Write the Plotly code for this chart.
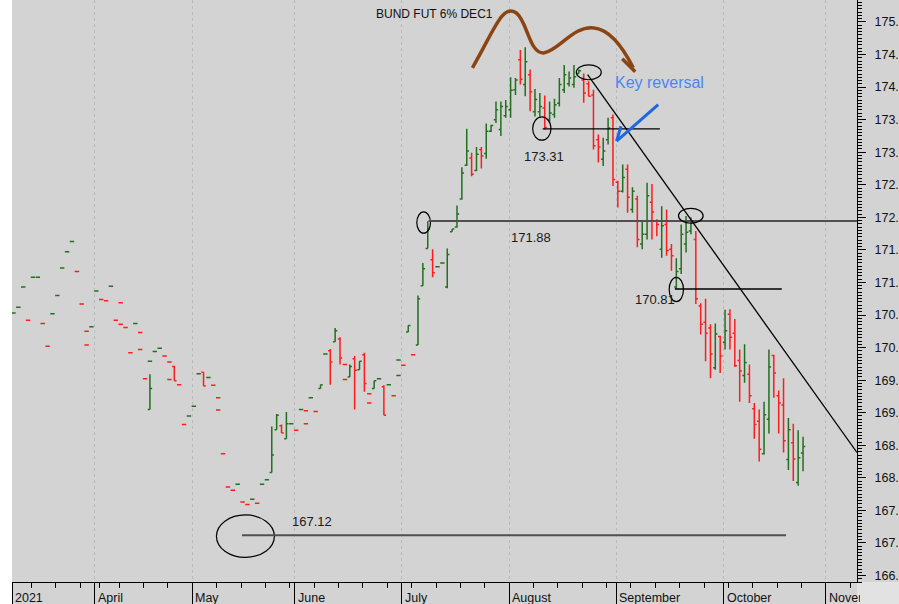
import plotly.graph_objects as go

TITLE = "BUND FUT 6% DEC1"

# daily bars (trading days), 9 Mar 2021 .. 25 Oct 2021
opens = [
    170.53, 170.62, 170.93, 170.42, 171.08, 171.08, 170.37, 170.02, 170.52, 170.80, 171.22, 171.47, 171.63, 171.17, 170.67, 170.25, 170.32,
    170.87, 170.74, 170.72, 170.94, 170.42, 170.36, 170.31, 169.92, 170.37, 170.23, 169.52, 169.05, 169.94, 169.99, 169.87, 169.78, 169.71, 169.43, 168.82, 168.95,
    169.10, 169.60, 169.62, 169.54, 169.42, 169.23, 168.37, 167.86, 167.81, 167.90, 167.63, 167.59, 167.67, 167.61, 167.90, 167.97, 168.08, 168.74, 168.80, 168.60, 168.83,
    168.73, 169.05, 169.03, 169.23, 169.02, 169.37, 169.90, 169.95, 170.09, 170.13, 169.74, 169.55, 169.83, 169.66, 169.89, 169.29, 169.37, 169.52, 169.40, 169.43, 169.26, 169.81,
    169.73, 170.24, 169.89, 170.04, 170.95, 171.52, 171.35, 171.24, 171.30, 170.93, 171.78, 171.85, 172.28, 172.80, 172.91, 172.72, 173.04, 172.98, 173.32, 173.50, 173.35, 173.56,
    173.65, 173.96, 174.42, 174.04, 174.19, 173.62, 173.62, 173.68, 173.50, 173.58, 173.75, 173.96, 174.05, 174.04, 174.21, 174.11, 174.05, 173.88, 173.19, 172.89, 173.19, 173.53,
    172.54, 172.40, 172.74, 172.12, 172.28, 171.59, 171.74, 172.23, 171.94, 171.51, 171.89, 171.51, 170.93, 171.21, 171.59, 171.79, 171.66, 170.64, 170.39, 170.30, 169.69, 170.17,
    170.08, 170.51, 170.22, 169.80, 169.57, 169.59, 169.06, 168.87, 168.37, 168.90, 169.88, 169.26, 169.12, 168.28, 168.54, 167.93, 168.38,
]
highs = [
    170.53, 170.62, 170.93, 170.42, 171.08, 171.08, 170.37, 170.02, 170.52, 170.80, 171.22, 171.47, 171.63, 171.17, 170.67, 170.25, 170.32,
    170.87, 170.74, 170.72, 170.94, 170.42, 170.36, 170.31, 169.92, 170.37, 170.23, 169.52, 169.59, 169.94, 169.99, 169.87, 169.78, 169.72, 169.43, 168.82, 168.95,
    169.10, 169.60, 169.62, 169.54, 169.42, 169.23, 168.37, 167.86, 167.81, 167.90, 167.63, 167.59, 167.67, 167.61, 167.90, 167.97, 168.79, 168.98, 168.82, 169.01, 168.83,
    168.73, 169.05, 169.03, 169.23, 169.02, 169.43, 169.90, 169.98, 170.30, 170.16, 169.74, 169.74, 169.87, 169.79, 169.92, 169.29, 169.49, 169.52, 169.42, 169.43, 169.26, 169.81,
    169.73, 170.34, 169.89, 170.80, 171.30, 171.94, 171.51, 171.24, 171.30, 171.52, 171.82, 172.18, 172.77, 173.36, 172.99, 173.08, 173.08, 173.44, 173.42, 173.78, 173.78, 173.80,
    174.15, 174.14, 174.57, 174.61, 174.27, 173.97, 173.91, 173.87, 173.78, 173.82, 174.14, 174.34, 174.24, 174.34, 174.27, 174.21, 174.09, 173.96, 173.27, 173.22, 173.53, 173.58,
    172.56, 172.81, 172.81, 172.46, 172.33, 171.94, 172.53, 172.51, 171.97, 172.17, 172.12, 171.59, 171.37, 171.89, 172.02, 172.00, 171.79, 170.68, 170.75, 170.36, 170.37, 170.18,
    170.58, 170.59, 170.44, 169.97, 170.05, 169.74, 169.15, 169.05, 169.17, 169.97, 169.89, 169.34, 169.53, 168.92, 168.83, 168.73, 168.63,
]
lows = [
    170.53, 170.62, 170.93, 170.42, 171.08, 171.08, 170.37, 170.02, 170.52, 170.80, 171.22, 171.47, 171.63, 171.17, 170.67, 170.25, 170.32,
    170.87, 170.74, 170.72, 170.94, 170.42, 170.36, 170.31, 169.92, 170.37, 170.23, 169.52, 169.05, 169.94, 169.99, 169.87, 169.78, 169.49, 169.43, 168.82, 168.95,
    169.10, 169.60, 169.41, 169.54, 169.42, 169.23, 168.37, 167.86, 167.81, 167.90, 167.63, 167.59, 167.67, 167.61, 167.90, 167.97, 168.08, 168.74, 168.69, 168.60, 168.83,
    168.73, 169.05, 169.03, 169.23, 169.02, 169.37, 169.90, 169.43, 170.09, 169.74, 169.74, 169.55, 169.05, 169.66, 169.32, 169.29, 169.37, 169.52, 168.96, 169.43, 169.26, 169.81,
    169.73, 170.24, 169.89, 170.04, 170.95, 171.52, 171.08, 171.24, 171.30, 170.91, 171.78, 171.84, 172.27, 172.79, 172.63, 172.71, 172.75, 172.90, 173.31, 173.45, 173.25, 173.53,
    173.53, 173.88, 174.04, 173.86, 173.63, 173.55, 173.55, 173.35, 173.45, 173.53, 173.70, 173.91, 174.01, 173.99, 174.21, 173.76, 173.86, 173.04, 172.84, 172.79, 173.12, 172.48,
    172.15, 172.38, 172.07, 172.07, 171.54, 171.51, 171.66, 171.66, 171.71, 171.38, 171.41, 171.18, 170.90, 171.13, 171.46, 171.74, 170.67, 170.20, 169.79, 169.53, 169.66, 169.61,
    169.97, 169.97, 169.70, 169.17, 169.46, 169.15, 168.60, 168.25, 168.36, 168.68, 169.23, 168.68, 168.39, 168.12, 167.95, 167.88, 168.10,
]
closes = [
    170.53, 170.62, 170.93, 170.42, 171.08, 171.08, 170.37, 170.02, 170.52, 170.80, 171.22, 171.47, 171.63, 171.17, 170.67, 170.25, 170.32,
    170.87, 170.74, 170.72, 170.94, 170.42, 170.36, 170.31, 169.92, 170.37, 170.23, 169.52, 169.37, 169.94, 169.99, 169.87, 169.78, 169.49, 169.43, 168.82, 168.95,
    169.10, 169.60, 169.41, 169.54, 169.42, 169.23, 168.37, 167.86, 167.81, 167.90, 167.63, 167.59, 167.67, 167.61, 167.90, 167.97, 168.35, 168.96, 168.69, 168.83, 168.83,
    168.73, 169.05, 169.03, 169.23, 169.02, 169.43, 169.90, 169.78, 170.26, 169.84, 169.74, 169.71, 169.65, 169.79, 169.45, 169.29, 169.49, 169.52, 168.96, 169.43, 169.26, 169.81,
    169.73, 170.34, 169.89, 170.75, 171.21, 171.82, 171.15, 171.24, 171.30, 171.43, 171.82, 172.05, 172.68, 173.02, 172.66, 172.97, 172.94, 173.32, 173.41, 173.65, 173.70, 173.70,
    173.95, 174.11, 174.12, 174.39, 173.93, 173.81, 173.70, 173.38, 173.60, 173.73, 174.04, 174.19, 174.14, 174.16, 174.25, 173.91, 173.86, 173.10, 173.08, 173.02, 173.37, 172.58,
    172.40, 172.61, 172.31, 172.40, 171.66, 171.74, 172.33, 172.08, 171.89, 171.87, 171.49, 171.41, 171.17, 171.74, 171.77, 171.92, 170.75, 170.36, 170.22, 169.90, 170.21, 169.87,
    170.26, 170.16, 169.72, 169.64, 169.77, 169.26, 168.82, 168.44, 168.97, 169.70, 169.61, 169.15, 168.57, 168.74, 168.29, 168.31, 168.48,
]

# second prints on a few of the thin early sessions
extra_red_day = [15, 22, 26, 32, 42, 60, 68, 73]
extra_red_px = [170.04, 170.69, 169.97, 169.51, 169.04, 168.83, 169.51, 169.15]
extra_green_day = [28, 79]
extra_green_px = [169.79, 169.57]

month_start = [0, 17, 37, 58, 80, 102, 124, 146, 167]
month_names = ["2021", "April", "May", "June", "July", "August", "September", "October", "November"]
week_start = [4, 9, 14, 18, 22, 27, 32, 42, 47, 52, 57, 62, 67, 72, 77, 82, 87, 92, 97,
              107, 112, 117, 122, 127, 132, 137, 142, 147, 152, 157, 162, 172]
price_ticks = [166.5 + 0.5 * k for k in range(18)]

GREEN = "#22701f"
RED = "#ff1c1c"
BG = "#d3d3d3"
FONT = "Arial, Liberation Sans, sans-serif"

# screen geometry of the reference, used for the hand drawn markup
X0, DX = 13.46, 4.88
Y0, DY = 175.337, 65.35


def at(px, py):
    return (px - X0) / DX, Y0 - py / DY


def svg(cmds):
    out = []
    for cmd, pts in cmds:
        out.append(cmd + " " + " ".join("%.3f,%.4f" % at(*p) for p in pts))
    return " ".join(out)


def ellipse(x0, y0, x1, y1):
    a, b = at(x0, y0)
    c, d = at(x1, y1)
    return dict(type="circle", xref="x", yref="y", x0=a, y0=b, x1=c, y1=d,
                line=dict(color="black", width=1.2))


def seg(x0, y0, x1, y1, color="black", width=1.3):
    a, b = at(x0, y0)
    c, d = at(x1, y1)
    return dict(type="line", xref="x", yref="y", x0=a, y0=b, x1=c, y1=d,
                line=dict(color=color, width=width))


def label(px, py, text, size=13, color="#1a1a1a"):
    x, y = at(px, py)
    return dict(x=x, y=y, xref="x", yref="y", text=text, showarrow=False,
                font=dict(size=size, color=color, family=FONT), xanchor="center", yanchor="middle")


days = list(range(len(closes)))

fig = go.Figure()
fig.add_trace(go.Ohlc(x=days, open=opens, high=highs, low=lows, close=closes, tickwidth=0.45,
                      increasing=dict(line=dict(color=GREEN, width=1.5)),
                      decreasing=dict(line=dict(color=RED, width=1.5)), showlegend=False))
for xs, ys, col in [(extra_red_day, extra_red_px, RED), (extra_green_day, extra_green_px, GREEN)]:
    fig.add_trace(go.Ohlc(x=xs, open=ys, high=ys, low=ys, close=ys, tickwidth=0.45,
                          increasing=dict(line=dict(color=col, width=1.5)),
                          decreasing=dict(line=dict(color=col, width=1.5)), showlegend=False))

shapes = [
    dict(type="rect", xref="paper", yref="paper", x0=-0.05, x1=0, y0=-0.1, y1=1.0,
         fillcolor="white", line=dict(width=0), layer="below"),
    dict(type="rect", xref="paper", yref="paper", x0=1.0, x1=1.1, y0=-0.1, y1=0,
         fillcolor="#e2e2e2", line=dict(width=0), layer="below"),
    ellipse(216.7, 516.7, 274.7, 559.3),
    seg(242.3, 537, 787, 537, color="#505050", width=2),
    ellipse(417.3, 212.7, 431, 234),
    seg(429, 221.7, 858, 221.7, color="#505050", width=2),
    ellipse(533.3, 117.3, 551.7, 140.7),
    seg(543.3, 129.3, 660.7, 129.3),
    ellipse(577, 65, 602, 80),
    seg(588.3, 75, 858, 454),
    ellipse(679.3, 209, 704, 224),
    ellipse(670, 278.3, 684.3, 302.7),
    seg(675.7, 290, 782.7, 290),
    dict(type="path", xref="x", yref="y", line=dict(color="#1f67e0", width=3),
         path=svg([("M", [(659, 105)]), ("L", [(617.3, 141.7)]),
                   ("M", [(621.7, 126.7)]), ("L", [(617.3, 141.7), (636.7, 138.3)])])),
    dict(type="path", xref="x", yref="y", line=dict(color="#8b4513", width=3.5),
         path=svg([("M", [(473, 68)]), ("C", [(495, 30), (503, 3), (517, 13)]),
                   ("C", [(528, 21), (530, 55), (545, 53)]),
                   ("C", [(560, 50), (575, 25), (595, 28)]),
                   ("C", [(612, 30), (625, 50), (634, 68)])])),
    dict(type="path", xref="x", yref="y", line=dict(color="#8b4513", width=3.5),
         path=svg([("M", [(623, 59)]), ("L", [(636, 72), (640, 52)])])),
]

annotations = [
    label(435, 14, TITLE, size=12, color="#111111"),
    label(545, 157.5, "173.31"),
    label(532, 238.5, "171.88"),
    label(656, 300.3, "170.81"),
    label(312.5, 523, "167.12"),
    label(660.5, 83, "Key reversal", size=16, color="#4a86f0"),
]
for i, (m, name) in enumerate(zip(month_start, month_names)):
    ann = dict(x=m - 0.3, y=0, xref="x", yref="paper", text=name, showarrow=False,
               xanchor="left", yanchor="top", xshift=1, yshift=-7, align="left",
               font=dict(size=12.5, color="#111111", family=FONT))
    if i == len(month_start) - 1:
        ann["width"] = 31
    annotations.append(ann)

fig.update_layout(
    width=899, height=604,
    margin=dict(l=12, r=41, t=0, b=20),
    paper_bgcolor=BG, plot_bgcolor=BG,
    font=dict(family=FONT, size=12.5, color="#111111"),
    shapes=shapes, annotations=annotations,
    hovermode=False,
)
fig.update_xaxes(
    range=[-0.3, 173.07], rangeslider=dict(visible=False),
    tickmode="array", tickvals=[m - 0.3 for m in month_start], showticklabels=False,
    ticks="outside", ticklen=22, tickcolor="black", tickwidth=1,
    showline=True, linecolor="black", linewidth=1,
    showgrid=True, gridcolor="#bababa", griddash="dot", gridwidth=1, zeroline=False,
    minor=dict(tickmode="array", tickvals=[w - 0.3 for w in week_start], ticks="outside",
               ticklen=5, tickcolor="black", showgrid=False),
)
fig.update_yaxes(
    side="right", range=[Y0 - 584 / DY, Y0],
    tickmode="array", tickvals=price_ticks, ticktext=["%d." % int(v) for v in price_ticks],
    ticks="outside", ticklen=8, tickcolor="black", ticklabelstandoff=6,
    showline=True, linecolor="black", linewidth=1, showgrid=False, zeroline=False,
    tickfont=dict(size=12.5, color="#111111"),
    minor=dict(dtick=0.05, ticks="outside", ticklen=3.5, tickcolor="black", showgrid=False),
)

fig.write_html("out.html", config={"displayModeBar": False},
               post_script="document.body.style.margin='0';document.body.style.overflow='hidden';")
